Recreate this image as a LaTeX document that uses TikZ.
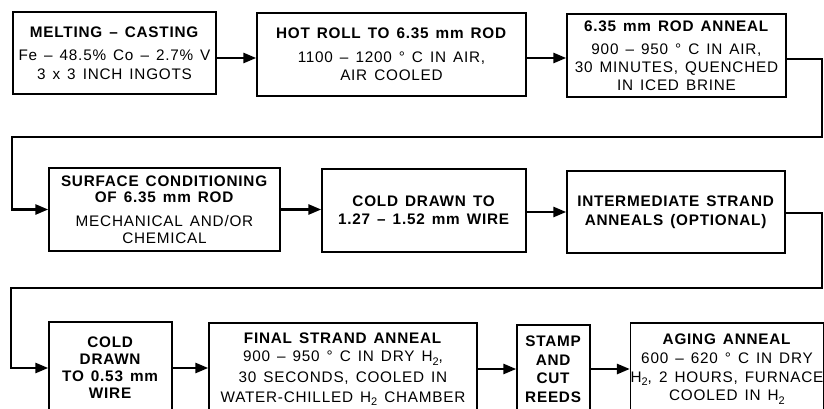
\documentclass[tikz,border=0pt]{standalone}
\usepackage{fontspec}
\newfontfamily\hv[LetterSpace=5,WordSpace=1.4]{Liberation Sans}
\usetikzlibrary{arrows.meta}
\newcommand\Hsub{H\raisebox{-3.5pt}{\fontsize{11}{11}\selectfont 2}}
\tikzset{
  box/.style={draw, line width=1.4pt, align=center, inner sep=0pt,
    font=\hv\fontsize{15.3}{18.5}\selectfont},
  conn/.style={line width=2.6pt, -{Triangle[length=13pt,width=10pt]}},
}
\begin{document}
\begin{tikzpicture}[x=1pt,y=1pt]
\clip (0,0) rectangle (824,408);
% row 1
\node[box, minimum width=203, minimum height=82] (n1) at (114.5,355)
  {\textbf{MELTING – CASTING}\\[4.5pt]
   Fe – 48.5\%  Co – 2.7\%  V\\
   3 x 3  INCH  INGOTS};
\node[box, minimum width=269, minimum height=83] (n2) at (391.5,353.5)
  {\textbf{HOT  ROLL TO 6.35 mm ROD}\\[5pt]
   1100 – 1200 ° C  IN  AIR,\\
   AIR  COOLED};
\node[box, minimum width=219, minimum height=83] (n3) at (676.5,352.5)
  {\textbf{6.35 mm ROD  ANNEAL}\\[4.5pt]
   900 – 950 ° C  IN  AIR,\\[-0.5pt]
   30 MINUTES, QUENCHED\\[-0.5pt]
   IN  ICED  BRINE};
% row 2
\node[box, minimum width=231, minimum height=83] (n4) at (164.5,198.5)
  {\textbf{SURFACE  CONDITIONING}\\[-2.5pt]
   \textbf{OF  6.35 mm ROD}\\[5.5pt]
   MECHANICAL  AND/OR\\[-1.5pt]
   CHEMICAL};
\node[box, minimum width=204, minimum height=83] (n5) at (424,197.5)
  {\textbf{COLD  DRAWN  TO}\\[-0.5pt]
   \textbf{1.27 – 1.52 mm  WIRE}};
\node[box, minimum width=218, minimum height=82] (n6) at (676,196)
  {\textbf{INTERMEDIATE  STRAND}\\
   \textbf{ANNEALS  (OPTIONAL)}};
% row 3
\node[box, minimum width=123, minimum height=92] (n7) at (110.5,40)
  {\textbf{COLD}\\[-1.5pt]
   \textbf{DRAWN}\\[-1.5pt]
   \textbf{TO  0.53 mm}\\[-1.5pt]
   \textbf{WIRE}};
\node[box, minimum width=268, minimum height=92] (n8) at (343,39)
  {\textbf{FINAL  STRAND  ANNEAL}\\
   900 – 950 ° C  IN  DRY  \Hsub,\\[2pt]
   30 SECONDS, COOLED  IN\\[1.5pt]
   WATER-CHILLED  \Hsub\  CHAMBER};
\node[box, minimum width=73, minimum height=88] (n9) at (553.5,39)
  {\textbf{STAMP}\\
   \textbf{AND}\\
   \textbf{CUT}\\
   \textbf{REEDS}};
\node[box, minimum width=190, minimum height=92] (n10) at (727,39)
  {\textbf{AGING  ANNEAL}\\[1pt]
   600 – 620 ° C  IN  DRY\\
   \Hsub, 2  HOURS, FURNACE\\
   COOLED  IN  \Hsub};
% turning points
\coordinate (c1) at (822,271);
\coordinate (c2) at (12,271);
\coordinate (c3) at (822,120);
\coordinate (c4) at (11,120);
% connectors
\draw[conn] ([yshift=-5pt]n1.east) -- ([yshift=-5pt]n1.east -| n2.west);
\draw[conn] ([yshift=-3.5pt]n2.east) -- ([yshift=-3.5pt]n2.east -| n3.west);
\draw[conn] ([yshift=-3.5pt]n3.east) -| (c1) -- (c2) |- (n4.west);
\draw[conn] (n4.east) -- (n4.east -| n5.west);
\draw[conn] ([yshift=-1.5pt]n5.east) -- ([yshift=-1.5pt]n5.east -| n6.west);
\draw[conn] ([yshift=-1pt]n6.east) -| (c3) -- (c4) |- (n7.west);
\draw[conn] (n7.east) -- (n7.east -| n8.west);
\draw[conn] (n8.east) -- (n8.east -| n9.west);
\draw[conn] (n9.east) -- (n9.east -| n10.west);
\end{tikzpicture}
\end{document}
